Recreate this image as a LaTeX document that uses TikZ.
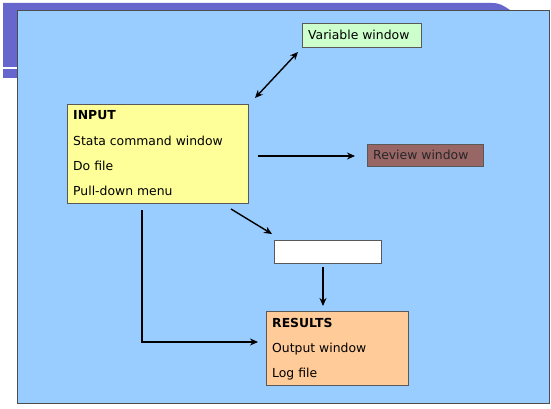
\documentclass[tikz,border=0pt]{standalone}
\usepackage{fontspec}
\setmainfont{DejaVu Sans}
\usetikzlibrary{arrows.meta}
\definecolor{purp}{HTML}{6666CC}
\definecolor{panel}{HTML}{99CCFF}
\definecolor{vargreen}{HTML}{CCFFCC}
\definecolor{inyellow}{HTML}{FFFF99}
\definecolor{revbrown}{HTML}{996666}
\definecolor{resorange}{HTML}{FFCC99}
\tikzset{
  box/.style={draw=gray!70!black, line width=0.8pt, inner sep=0pt, outer sep=0pt},
  txt/.style={font=\fontsize{12.4}{14}\selectfont, anchor=west, inner sep=0pt},
  btxt/.style={txt, font=\fontsize{12.4}{14}\selectfont\bfseries},
  tip/.tip={Stealth[length=8pt,width=7pt]},
  conn/.style={draw=black, line width=1.4pt, -tip},
}
\begin{document}
\begin{tikzpicture}[x=1pt,y=-1pt]
\useasboundingbox (0,0) rectangle (551,409);
\fill[white] (0,0) rectangle (551,409);
% purple header shapes
\fill[purp] (3,3) -- (492,3) .. controls (500,3) and (504,6) .. (510,10) -- (17,10) -- (17,67) -- (3,67) -- cycle;
\fill[purp] (3,69.5) rectangle (17,78);
% panel
\fill[panel] (17,10) rectangle (549,403);
\draw[gray!60!black, line width=0.8pt] (17,403) -- (17,10) -- (549,10) -- (549,403) -- cycle;
% boxes
\node[box, fill=vargreen, minimum width=119pt, minimum height=24pt, anchor=north west] (var) at (302,23) {};
\node[txt] (varT) at ([xshift=6pt]var.west) {Variable window};
\node[box, fill=inyellow, minimum width=181pt, minimum height=99pt, anchor=north west] (in) at (67,104) {};
\node[btxt] (inT) at (73,115) {INPUT};
\node[txt] (in1) at (73,141) {Stata command window};
\node[txt] (in2) at (73,166) {Do file};
\node[txt] (in3) at (73,191) {Pull-down menu};
\node[box, fill=revbrown, minimum width=116pt, minimum height=22pt, anchor=north west] (rev) at (367,144) {};
\node[txt, text=black!85] (revT) at ([xshift=6pt]rev.west) {Review window};
\node[box, fill=white, minimum width=107pt, minimum height=23pt, anchor=north west] (blank) at (274,240) {};
\node[box, fill=resorange, minimum width=142pt, minimum height=74pt, anchor=north west] (res) at (266,311) {};
\node[btxt] (resT) at (272,323) {RESULTS};
\node[txt] (res1) at (272,349) {Output window};
\node[txt] (res2) at (272,374) {Log file};
% connector end points
\coordinate (dA) at (255,98);
\coordinate (dB) at (298,52);
\coordinate (hA) at (258,156);
\coordinate (hB) at (355,156);
\coordinate (gA) at (231,209);
\coordinate (gB) at (272,234);
\coordinate (vA) at (323,267);
\coordinate (vB) at (323,306);
\coordinate (lA) at (142,210);
\coordinate (lC) at (142,342);
\coordinate (lB) at (258,342);
\draw[conn, tip-tip] (dA) -- (dB);
\draw[conn] (hA) -- (hB);
\draw[conn] (gA) -- (gB);
\draw[conn] (vA) -- (vB);
\draw[conn] (lA) -- (lC) -- (lB);
\end{tikzpicture}
\end{document}
